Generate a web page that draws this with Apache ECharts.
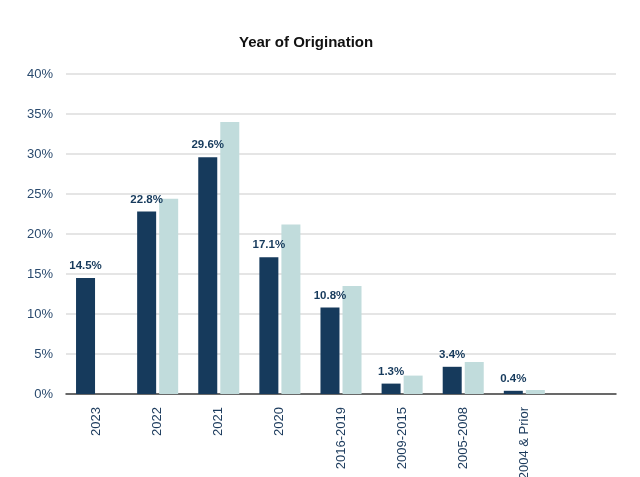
<!DOCTYPE html>
<html><head><meta charset="utf-8">
<script src="https://cdn.jsdelivr.net/npm/echarts@6/dist/echarts.min.js"></script>
<style>html,body{margin:0;padding:0;background:#fff}#c{width:640px;height:477px}</style>
</head><body><div id="c"></div>
<script>
const categories = ['2023','2022','2021','2020','2016-2019','2009-2015','2005-2008','2004 & Prior',''];
const seriesA = [14.5, 22.8, 29.6, 17.1, 10.8, 1.3, 3.4, 0.4, null];
const seriesB = [null, 24.4, 34.0, 21.2, 13.5, 2.3, 4.0, 0.5, null];
const yTicks = {min: 0, max: 40, interval: 5};

const chart = echarts.init(document.getElementById('c'), null, {renderer: 'canvas'});
chart.setOption({
  animation: false,
  backgroundColor: '#ffffff',
  title: {
    text: 'Year of Origination',
    left: 234, top: 30,
    textStyle: {fontFamily: 'Liberation Sans', fontWeight: 'bold', fontSize: 15, color: '#111111'}
  },
  grid: {left: 66, right: 24, top: 74, bottom: 83, containLabel: false, outerBoundsMode: 'none'},
  xAxis: {
    type: 'category',
    data: categories,
    axisTick: {show: false},
    axisLine: {lineStyle: {color: '#404040', width: 1.5}},
    axisLabel: {rotate: 90, interval: 0, margin: 13, fontFamily: 'Liberation Sans', fontSize: 13, color: '#1b3a5c'}
  },
  yAxis: {
    type: 'value',
    min: yTicks.min, max: yTicks.max, interval: yTicks.interval,
    axisLine: {show: false},
    axisTick: {show: false},
    splitLine: {lineStyle: {color: '#dcdcdc', width: 1.5}},
    axisLabel: {formatter: '{value}%', margin: 13, fontFamily: 'Liberation Sans', fontSize: 13, color: '#2a4a6e'}
  },
  series: [
    {
      type: 'bar', data: seriesA, barWidth: 19, barGap: '16%',
      itemStyle: {color: '#163a5c'},
      label: {show: true, position: 'top', distance: 6, formatter: p => p.value.toFixed(1) + '%',
        fontFamily: 'Liberation Sans', fontWeight: 'bold', fontSize: 11.5, color: '#163a5c'}
    },
    {
      type: 'bar', data: seriesB, barWidth: 19,
      itemStyle: {color: '#c1dcdc'}
    }
  ]
});
</script></body></html>
